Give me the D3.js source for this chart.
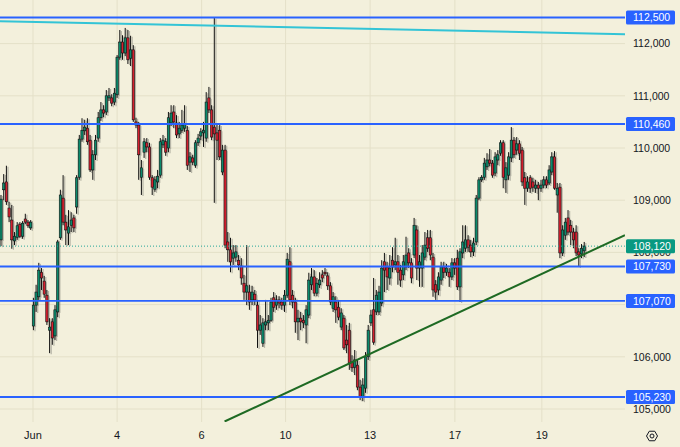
<!DOCTYPE html>
<html><head><meta charset="utf-8">
<script src="https://cdn.jsdelivr.net/npm/d3@7"></script>
<style>html,body{margin:0;padding:0;background:#f3f0dc;} svg{display:block}</style>
</head><body><svg id="c" width="680" height="447"></svg>
<script>
// ---- data (prices) ----
const opens=[108240,109200,109350,108850,108620,108220,108290,108540,108310,108640,108580,108470,
106590,106990,107150,107620,107450,107180,106510,106670,106400,106860,108280,109040,
108580,108370,108520,108660,108870,109440,110170,110330,110380,110150,109580,109870,
110190,110580,110730,110690,110960,110960,110880,111020,111740,112030,111820,112110,
111720,111880,110500,110440,109440,109920,110100,110020,109430,109210,109350,109480,
110060,110120,110000,110480,110690,110480,110270,110340,110380,110340,109730,109810,
109670,110100,110230,110290,110190,110960,110730,110400,110290,110340,109540,109960,
108200,108050,107890,107910,107850,107740,107410,107240,107240,107090,107200,106990,
106510,106260,106610,106650,106700,107130,106990,107090,107050,106990,107180,107820,
107180,107050,106670,106740,106700,106610,106800,107380,107530,107220,107380,107570,
107620,107550,107360,106930,107050,106950,106570,106740,106320,106510,105900,105800,
105840,105420,105230,105400,106000,106650,106900,106860,106860,107030,107820,107720,
107510,107850,107760,107820,107660,107570,107720,107990,107800,107950,108430,107700,
107700,107910,108280,108280,107910,107380,107280,107470,107720,107620,107620,107530,
107800,107890,107340,107990,108080,108240,108140,108010,108200,109040,109390,109440,
109640,109770,109710,109520,109770,109900,110100,109390,109480,109810,110150,109960,
110080,109960,109430,109230,109430,109350,109230,109290,109230,109290,109390,109330,
109540,109830,109100,109250,107990,108330,108660,108520,108390,108390,108010,107970,108030];
const highs=[109100,109500,109660,108970,108910,108390,108580,108580,108600,108740,108620,108620,
107130,107380,107800,107700,107550,107280,106740,106740,106990,108240,109200,109480,
108720,108810,108770,108720,109480,110250,110570,110540,110570,110250,109960,110250,
110690,110880,110820,111110,111150,111030,111150,111780,112260,112160,112300,112260,
112150,111970,110580,110500,109770,110190,110190,110100,109480,109460,109580,110190,
110250,110190,110690,110820,110820,110630,110500,110730,110820,110420,109920,109870,
110150,110270,110380,110500,111070,111170,110820,112490,110440,110440,110060,110060,
108390,108280,108140,108140,107950,107890,107570,108140,107380,107360,107280,107090,
106800,106740,107090,106800,107130,107240,107180,107160,107130,107280,107990,108100,
107280,107130,106900,106860,106800,106990,107610,107700,107660,107510,107620,107660,
107700,107620,107430,107240,107160,107090,106930,106800,106610,106650,106030,106130,
105940,105560,105590,106090,106610,106900,107510,107280,107360,107850,107990,107820,
107950,108100,108280,107950,107760,107950,108300,108080,107890,108660,108520,107950,
108140,108390,108430,108430,107990,107470,107620,107820,107820,107780,107700,107890,
107890,108050,108080,108520,108520,108330,108240,108280,109100,109440,109480,109810,
109900,109980,109770,109920,109960,110150,110150,109730,109920,110400,110210,110210,
110150,110020,109540,109460,109480,109430,109390,109350,109390,109460,109460,109670,
109920,109940,109330,109330,108520,108660,108810,108620,108470,108520,108080,108160,108200];
const lows=[108120,109000,108910,108580,108070,108140,108240,108280,108260,108540,108470,108430,
106510,106860,107090,107280,107130,106610,106070,106230,106320,106760,108240,108520,
108140,108140,108390,108390,108740,109390,110120,110250,110060,109540,109390,109770,
110120,110520,110590,110630,110900,110800,110820,110960,111690,111690,111760,111610,
111570,110500,110380,109390,109100,109810,109920,109390,109100,109160,109230,109430,
110000,109850,109920,110420,110380,110190,110190,110290,110310,109580,109540,109670,
109620,110040,110150,110020,110120,110670,110150,108950,109770,109770,109480,108080,
107820,107620,107760,107820,107660,107380,107090,106990,106900,106990,106990,106170,
106420,106190,106510,106510,106670,106860,106900,106930,106900,106860,107130,106990,
106930,106460,106320,106510,106550,106260,106740,107280,107160,107160,107320,107430,
107550,107280,106990,106860,106650,106700,106510,106130,106070,105750,105710,105650,
105360,105170,105150,105310,105940,106590,106230,106800,106800,106970,107240,107280,
107380,107620,107660,107380,107340,107470,107660,107700,107410,107890,107470,107340,
107340,107850,108010,107850,107150,107090,107180,107380,107510,107550,107340,107470,
107570,107280,107050,107890,108010,108010,107910,107930,108140,109000,109350,109390,
109580,109650,109430,109460,109670,109850,109230,109140,109390,109730,109810,109870,
109770,109270,108910,109160,109140,109160,109140,109000,109160,109230,109230,109290,
109480,109200,108760,107890,107930,108240,108330,108140,108080,107930,107720,107890,107910];
const closes=[109020,109330,108970,108680,108240,108310,108510,108310,108560,108580,108510,108580,
106990,107240,107660,107510,107200,106670,106570,106360,106900,108200,109100,108580,
108430,108490,108620,108470,109430,110170,110340,110400,110120,109580,109870,110150,
110580,110730,110670,111000,111000,110860,111050,111740,112030,111820,112110,111690,
111880,110540,110440,109870,109620,110120,110020,109440,109250,109390,109460,110120,
110150,109920,110580,110670,110500,110250,110380,110440,110460,109670,109830,109730,
110100,110190,110310,110340,110880,110730,110210,110270,110150,109830,109960,108140,
108050,107820,107990,108010,107760,107510,107240,107360,107050,107240,107090,106510,
106610,106650,106670,106700,107050,106950,107090,107030,106990,107180,107870,107090,
107050,106670,106740,106670,106650,106900,107470,107530,107220,107410,107470,107510,
107590,107360,107050,107150,106900,106760,106840,106170,106230,105880,105790,105940,
105420,105230,105460,106000,106510,106800,106280,107180,107240,107700,107660,107530,
107700,107720,107820,107620,107470,107820,107950,107800,107510,108520,107700,107820,
107990,108140,108080,107950,107280,107240,107530,107720,107620,107700,107530,107800,
107700,107340,108010,108200,108240,108100,108010,108180,109040,109390,109440,109710,
109770,109710,109480,109830,109870,110100,109440,109620,109830,110150,109870,110080,
109900,109350,109230,109350,109230,109250,109290,109230,109290,109390,109290,109580,
109830,109230,109230,107990,108430,108580,108390,108390,108240,107990,107950,108080,108120];

const dayLabels=["Jun","4","6","10","13","17","19"];
const dayTickIdx=[11.85,43,74.3,105.4,136.7,168.1,200.3];   // bar index where each day starts
const priceTicks=[105000,106000,107000,108000,109000,110000,111000,112000];
const levels=[112500,110460,107730,107070,105230];
const lastPrice=108120;
const cyanLine=[[-0.4,112430],[231.1,112180]];
const trendLine=[[82.8,104760],[231.1,108330]];

// ---- layout ----
const plotR=625, plotB=422;
const svg=d3.select("#c");
const x=d3.scaleLinear().domain([-0.37,231.1]).range([0,plotR]);
const y=d3.scaleLinear().domain([105000,112000]).range([409,43.6]);
const fmt=d3.format(",");

svg.append("rect").attr("width",680).attr("height",447).attr("fill","#f3f0dc");
svg.append("clipPath").attr("id","clip").append("rect").attr("width",plotR).attr("height",plotB);
const plot=svg.append("g").attr("clip-path","url(#clip)");

// grid
plot.selectAll(".hg").data(priceTicks).join("line")
  .attr("x1",0).attr("x2",plotR).attr("y1",d=>y(d)).attr("y2",d=>y(d))
  .attr("stroke","#e4e0c8").attr("stroke-width",1);
plot.selectAll(".vg").data(dayTickIdx).join("line")
  .attr("x1",d=>x(d)).attr("x2",d=>x(d)).attr("y1",0).attr("y2",plotB)
  .attr("stroke","#e4e0c8").attr("stroke-width",1);

const idx=d3.range(opens.length);
const bw=2.3;
// ghost shadow
const gh=plot.append("g").attr("opacity",0.45);
gh.selectAll("line").data(idx).join("line")
  .attr("x1",i=>x(i)+1.6).attr("x2",i=>x(i)+1.6)
  .attr("y1",i=>y(highs[i])+1).attr("y2",i=>y(lows[i])+1)
  .attr("stroke","#6f6f68").attr("stroke-width",1.2);
gh.selectAll("rect").data(idx).join("rect")
  .attr("x",i=>x(i)+1.6-bw/2).attr("width",bw)
  .attr("y",i=>y(Math.max(opens[i],closes[i]))+1)
  .attr("height",i=>Math.max(1,Math.abs(y(opens[i])-y(closes[i]))))
  .attr("fill","#6f6f68");

// candles
const cg=plot.append("g");
cg.selectAll("line").data(idx).join("line")
  .attr("x1",i=>x(i)).attr("x2",i=>x(i))
  .attr("y1",i=>y(highs[i])).attr("y2",i=>y(lows[i]))
  .attr("stroke","#111").attr("stroke-width",1);
cg.selectAll("rect").data(idx).join("rect")
  .attr("x",i=>x(i)-bw/2).attr("width",bw)
  .attr("y",i=>y(Math.max(opens[i],closes[i])))
  .attr("height",i=>Math.max(1,Math.abs(y(opens[i])-y(closes[i]))))
  .attr("fill",i=>closes[i]>=opens[i]?"#0b8a6c":"#d4202f")
  .attr("stroke","#111").attr("stroke-width",0.6);

// last price dotted
plot.append("line").attr("x1",0).attr("x2",plotR).attr("y1",y(lastPrice)).attr("y2",y(lastPrice))
  .attr("stroke","#26a69a").attr("stroke-width",1).attr("stroke-dasharray","1,2");

// drawings
plot.selectAll(".lvl").data(levels).join("line")
  .attr("x1",0).attr("x2",plotR).attr("y1",d=>y(d)).attr("y2",d=>y(d))
  .attr("stroke","#2962ff").attr("stroke-width",1.8);
const ln=d3.line().x(d=>x(d[0])).y(d=>y(d[1]));
plot.append("path").attr("d",ln(cyanLine)).attr("stroke","#33c4d6").attr("stroke-width",2).attr("fill","none");
plot.append("path").attr("d",ln(trendLine)).attr("stroke","#1e6a23").attr("stroke-width",2).attr("fill","none");

// right axis labels (a tick label hidden behind a price tag is not drawn, as on the source chart)
const font="'Liberation Sans', Arial, sans-serif";
const tagged=levels.concat([lastPrice]);
const visibleTicks=priceTicks.filter(t=>tagged.every(v=>Math.abs(y(v)-y(t))>5));
svg.selectAll(".pt").data(visibleTicks).join("text")
  .attr("x",633).attr("y",d=>y(d)).attr("dy","0.36em")
  .attr("font-family",font).attr("font-size",10.5).attr("fill","#131722").text(d=>fmt(d));
function tag(v,col){
  const g=svg.append("g");
  g.append("rect").attr("x",626).attr("y",y(v)-7).attr("width",49).attr("height",14).attr("rx",1.5).attr("fill",col);
  g.append("text").attr("x",633).attr("y",y(v)).attr("dy","0.36em")
   .attr("font-family",font).attr("font-size",10.5).attr("fill","#fff").text(fmt(v));
}
levels.forEach(v=>tag(v,"#2962ff"));
tag(lastPrice,"#089981");

// bottom axis labels
svg.selectAll(".dl").data(dayTickIdx).join("text")
  .attr("x",d=>x(d)).attr("y",435).attr("dy","0.36em").attr("text-anchor","middle")
  .attr("font-family",font).attr("font-size",11).attr("fill","#131722")
  .text((d,i)=>dayLabels[i]);

// settings icon
const hx=652, hy=436, r=5.5;
const hex=d3.range(6).map(k=>[hx+r*Math.cos(Math.PI/3*k), hy+r*Math.sin(Math.PI/3*k)]);
svg.append("polygon").attr("points",hex.map(p=>p.join(",")).join(" "))
  .attr("fill","none").attr("stroke","#131722").attr("stroke-width",1);
svg.append("circle").attr("cx",hx).attr("cy",hy).attr("r",2).attr("fill","none").attr("stroke","#131722").attr("stroke-width",1);
</script></body></html>
